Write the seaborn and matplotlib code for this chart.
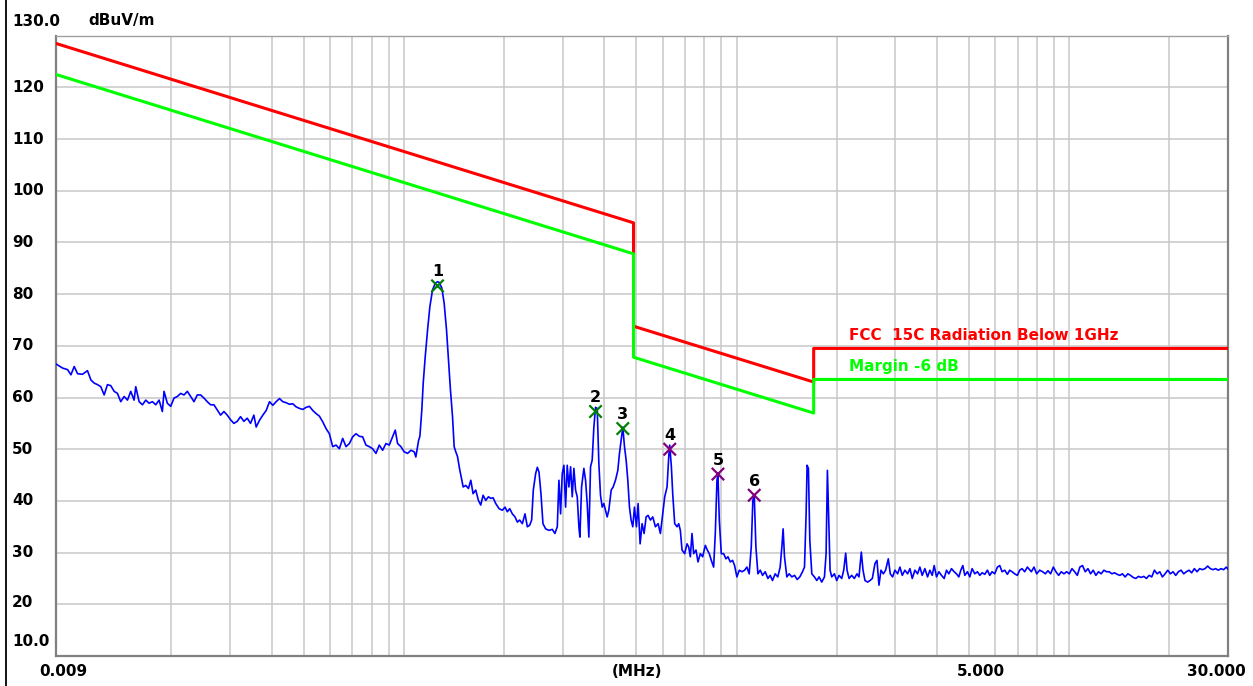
import numpy as np
import pandas as pd
import matplotlib
matplotlib.use('Agg')
import matplotlib.pyplot as plt
import matplotlib.transforms as mtransforms
from matplotlib.lines import Line2D
import seaborn as sns

# ==========================================
# Measured trace (MHz / dBuV/m), read off the scan
# ==========================================
# 9 kHz - 35 kHz
freq_a = [0.00900, 0.00942, 0.00975, 0.00998, 0.01021, 0.01045, 0.01081, 0.01119, 0.01146, 0.01172,
          0.01199, 0.01227, 0.01256, 0.01285, 0.01315, 0.01346, 0.01377, 0.01409, 0.01442, 0.01476,
          0.01510, 0.01545, 0.01563, 0.01600, 0.01637, 0.01675, 0.01714, 0.01754, 0.01795, 0.01837,
          0.01879, 0.01901, 0.01945, 0.01991, 0.02037, 0.02084, 0.02133, 0.02183, 0.02234, 0.02286,
          0.02339, 0.02393, 0.02449, 0.02506, 0.02564, 0.02624, 0.02685, 0.02748, 0.02812, 0.02877,
          0.02944, 0.03013, 0.03083, 0.03155, 0.03228, 0.03304, 0.03381, 0.03459, 0.03540]
lvl_a = [66.5, 65.7, 65.4, 64.4, 66.0, 64.6, 64.5, 65.2, 63.4, 62.8,
         62.5, 62.1, 60.5, 62.5, 62.3, 61.2, 60.8, 59.2, 60.2, 59.5,
         61.2, 59.5, 62.1, 59.2, 58.6, 59.5, 58.9, 59.2, 58.6, 59.5,
         57.3, 61.2, 58.9, 58.3, 59.9, 60.2, 60.8, 60.5, 61.2, 60.2,
         59.2, 60.5, 60.5, 59.9, 59.2, 58.6, 58.6, 57.6, 56.6, 57.3,
         56.6, 55.7, 55.0, 55.4, 56.3, 55.4, 56.0, 55.0, 56.6]

# 36 kHz - 111 kHz
freq_b = [0.03597, 0.03681, 0.03767, 0.03855, 0.03945, 0.04036, 0.04130, 0.04227, 0.04325, 0.04426,
          0.04529, 0.04634, 0.04742, 0.04853, 0.04966, 0.05082, 0.05200, 0.05321, 0.05445, 0.05572,
          0.05702, 0.05834, 0.05970, 0.06109, 0.06252, 0.06397, 0.06546, 0.06699, 0.06855, 0.07015,
          0.07178, 0.07345, 0.07516, 0.07691, 0.07870, 0.08054, 0.08241, 0.08433, 0.08630, 0.08831,
          0.09036, 0.09247, 0.09419, 0.09572, 0.09795, 0.1002, 0.1026, 0.1050, 0.1074, 0.1086,
          0.1107]
lvl_b = [54.3, 55.6, 56.6, 57.5, 59.2, 58.5, 59.2, 59.8, 59.2, 59.0,
         58.7, 58.8, 58.2, 57.9, 57.7, 58.1, 58.3, 57.5, 56.9, 56.4,
         55.3, 54.0, 53.0, 50.5, 50.8, 50.1, 52.1, 50.5, 51.1, 52.4,
         53.0, 52.5, 52.4, 50.8, 50.5, 50.1, 49.2, 50.8, 49.8, 51.1,
         50.8, 52.4, 53.7, 51.1, 50.5, 49.5, 49.2, 49.8, 49.5, 48.5,
         51.7]

# peak 1 region
freq_c = [0.1117, 0.1132, 0.1143, 0.1159, 0.1178, 0.1197, 0.1219, 0.1242, 0.1262, 0.1276,
          0.1300, 0.1321, 0.1343, 0.1361, 0.1380, 0.1400, 0.1416, 0.1432, 0.1449, 0.1472]
lvl_c = [52.5, 57.6, 62.8, 67.9, 73.1, 77.6, 80.8, 82.1, 82.4, 82.3,
         81.2, 78.3, 73.1, 67.3, 61.5, 56.3, 50.5, 49.5, 48.6, 46.0]

# 148 kHz - 542 kHz
freq_d = [0.1483, 0.1507, 0.1535, 0.1563, 0.1589, 0.1614, 0.1644, 0.1675, 0.1702, 0.1730,
          0.1762, 0.1795, 0.1824, 0.1854, 0.1888, 0.1932, 0.1977, 0.2014, 0.2046, 0.2080,
          0.2118, 0.2158, 0.2193, 0.2228, 0.2270, 0.2312, 0.2350, 0.2388, 0.2421, 0.2449,
          0.2489, 0.2518, 0.2547, 0.2582, 0.2618, 0.2667, 0.2729, 0.2793, 0.2844, 0.2891,
          0.2924, 0.2958, 0.2992, 0.3027, 0.3062, 0.3097, 0.3133, 0.3170, 0.3206, 0.3243,
          0.3281, 0.3319, 0.3357, 0.3381, 0.3420, 0.3475, 0.3516, 0.3556, 0.3597, 0.3639,
          0.3681, 0.3724, 0.3767, 0.3811, 0.3855, 0.3899, 0.3945, 0.3990, 0.4036, 0.4083,
          0.4130, 0.4198, 0.4256, 0.4325, 0.4395, 0.4446, 0.4498, 0.4550, 0.4603, 0.4656,
          0.4710, 0.4764, 0.4819, 0.4875, 0.4932, 0.5000, 0.5058, 0.5129, 0.5200, 0.5272,
          0.5346, 0.5420]
lvl_d = [45.0, 42.7, 43.0, 42.4, 44.0, 41.4, 42.1, 40.1, 39.2, 41.1,
         40.1, 40.8, 40.5, 40.6, 39.5, 38.5, 38.2, 38.8, 37.9, 38.5,
         37.5, 36.9, 35.9, 36.3, 35.6, 37.5, 35.0, 35.3, 36.3, 42.1,
         45.3, 46.5, 45.6, 41.4, 35.6, 34.6, 34.3, 34.5, 33.7, 35.0,
         44.0, 37.5, 45.3, 46.9, 38.8, 46.9, 42.7, 46.6, 40.8, 46.3,
         42.1, 40.8, 35.0, 33.0, 42.7, 46.3, 44.0, 39.5, 33.0, 46.6,
         47.9, 54.3, 58.1, 57.9, 47.2, 41.1, 38.8, 39.5, 38.2, 36.9,
         38.2, 42.1, 42.7, 44.0, 45.9, 49.2, 51.7, 54.3, 50.5, 47.9,
         44.0, 38.8, 36.3, 35.0, 38.8, 35.0, 39.5, 31.7, 35.6, 33.7,
         36.9, 37.2]

# 0.55 MHz - 1.9 MHz
freq_e = [0.5508, 0.5598, 0.5702, 0.5808, 0.5902, 0.5998, 0.6081, 0.6180, 0.6252, 0.6295,
          0.6368, 0.6427, 0.6516, 0.6622, 0.6699, 0.6776, 0.6855, 0.6982, 0.7096, 0.7178,
          0.7261, 0.7345, 0.7430, 0.7551, 0.7656, 0.7780, 0.7907, 0.8054, 0.8166, 0.8279,
          0.8395, 0.8531, 0.8630, 0.8730, 0.8790, 0.8872, 0.8995, 0.9141, 0.9290, 0.9419,
          0.9572, 0.9727, 0.9863, 1.002, 1.019, 1.038, 1.057, 1.074, 1.091, 1.107,
          1.119, 1.130, 1.143, 1.159, 1.178, 1.197, 1.219, 1.242, 1.262, 1.282,
          1.306, 1.330, 1.352, 1.368, 1.380, 1.393, 1.416, 1.439, 1.466, 1.493,
          1.521, 1.549, 1.578, 1.600, 1.618, 1.629, 1.644, 1.660, 1.683, 1.714,
          1.742, 1.770, 1.803, 1.837, 1.858, 1.875, 1.888]
lvl_e = [36.3, 36.9, 35.0, 35.6, 33.7, 37.5, 40.8, 42.7, 48.5, 50.8,
         46.6, 41.4, 35.6, 35.0, 35.6, 34.3, 30.5, 29.8, 31.7, 31.1,
         29.2, 33.7, 29.8, 30.5, 28.2, 29.8, 29.2, 31.4, 30.5, 29.8,
         28.5, 27.2, 33.7, 44.0, 45.0, 36.3, 29.8, 29.8, 28.8, 29.2,
         28.2, 28.5, 27.5, 25.3, 26.6, 26.3, 26.6, 27.2, 25.9, 31.1,
         40.1, 41.1, 31.1, 25.9, 26.6, 25.6, 26.3, 25.0, 25.6, 24.6,
         25.9, 25.3, 27.2, 31.1, 34.6, 29.2, 25.3, 25.9, 25.3, 25.6,
         24.8, 25.3, 26.3, 27.2, 37.5, 46.9, 46.3, 32.4, 25.9, 25.3,
         24.6, 25.3, 24.3, 25.3, 29.8, 45.9, 38.8]

# 1.9 MHz - 7.5 MHz
freq_f = [1.910, 1.932, 1.968, 2.000, 2.032, 2.070, 2.099, 2.128, 2.148, 2.178,
          2.218, 2.259, 2.301, 2.333, 2.371, 2.399, 2.432, 2.477, 2.518, 2.559,
          2.606, 2.642, 2.679, 2.716, 2.761, 2.805, 2.858, 2.897, 2.944, 2.992,
          3.048, 3.097, 3.148, 3.206, 3.266, 3.319, 3.373, 3.436, 3.499, 3.556,
          3.614, 3.681, 3.750, 3.811, 3.873, 3.926, 3.990, 4.055, 4.130, 4.207,
          4.276, 4.345, 4.426, 4.508, 4.581, 4.656, 4.721, 4.786, 4.853, 4.943,
          5.023, 5.105, 5.200, 5.297, 5.383, 5.470, 5.572, 5.675, 5.768, 5.861,
          5.970, 6.081, 6.180, 6.281, 6.397, 6.516, 6.622, 6.730, 6.855, 6.982,
          7.096, 7.211, 7.345, 7.482]
lvl_f = [26.6, 25.3, 25.9, 24.6, 25.6, 25.0, 26.6, 29.9, 26.6, 25.0,
         25.6, 25.0, 25.9, 25.3, 30.1, 26.6, 24.6, 24.3, 24.6, 25.0,
         27.9, 28.5, 23.7, 26.6, 25.9, 26.6, 28.8, 25.9, 25.3, 26.6,
         25.9, 27.2, 25.6, 26.6, 25.9, 26.9, 25.0, 26.6, 25.9, 27.2,
         25.6, 26.9, 25.3, 26.6, 25.6, 27.5, 25.3, 26.3, 25.6, 25.0,
         26.6, 25.9, 26.9, 26.3, 25.9, 25.3, 26.6, 27.5, 25.6, 26.3,
         25.3, 26.9, 25.9, 26.3, 25.6, 26.1, 25.8, 26.6, 25.6, 26.3,
         25.9, 27.2, 27.5, 26.3, 26.6, 25.8, 26.6, 26.3, 25.9, 25.6,
         26.6, 26.9, 26.3, 27.2]

# 7.6 MHz - 30 MHz
freq_g = [7.691, 7.834, 7.980, 8.147, 8.318, 8.472, 8.630, 8.790, 8.954, 9.120,
          9.290, 9.462, 9.638, 9.817, 10.00, 10.19, 10.38, 10.57, 10.76, 10.96,
          11.17, 11.38, 11.59, 11.80, 12.02, 12.25, 12.47, 12.71, 12.94, 13.18,
          13.43, 13.68, 13.93, 14.19, 14.45, 14.72, 15.00, 15.28, 15.56, 15.85,
          16.14, 16.44, 16.75, 17.06, 17.38, 17.70, 18.03, 18.37, 18.71, 19.05,
          19.41, 19.77, 20.14, 20.51, 20.89, 21.28, 21.68, 22.08, 22.49, 22.91,
          23.33, 23.77, 24.21, 24.66, 25.12, 25.59, 26.06, 26.55, 27.04, 27.54,
          28.05, 28.58, 29.11, 29.65, 30.00]
lvl_g = [26.3, 27.2, 25.9, 26.6, 26.3, 25.9, 26.5, 25.9, 27.2, 26.3,
         25.6, 26.3, 25.9, 26.3, 25.9, 26.9, 26.3, 25.6, 27.2, 27.5,
         26.3, 26.9, 25.9, 26.6, 25.6, 26.3, 25.9, 26.6, 26.3, 26.3,
         25.9, 26.1, 25.8, 25.6, 25.9, 25.3, 25.9, 25.6, 25.2, 25.0,
         25.4, 25.2, 25.4, 25.0, 25.6, 25.3, 26.6, 25.9, 26.3, 25.3,
         25.9, 26.6, 25.9, 26.3, 25.6, 26.3, 26.6, 25.9, 26.3, 26.6,
         26.1, 26.9, 26.3, 26.9, 26.7, 26.9, 27.4, 26.9, 26.7, 26.9,
         26.6, 26.9, 26.7, 27.2, 26.8]

# FCC 15C limit and the -6 dB margin (break points)
limit_freq = [0.009, 0.49, 0.49, 1.705, 1.705, 30.0]
limit_db = [128.5, 93.8, 73.8, 63.0, 69.5, 69.5]
margin_db = [122.5, 87.8, 67.8, 57.0, 63.5, 63.5]
limit_label = 'FCC  15C Radiation Below 1GHz'
margin_label = 'Margin -6 dB'
label_freq = 2.18

# Peak markers
peak_no = ['1', '2', '3', '4', '5', '6']
peak_freq = [0.1262, 0.3767, 0.4550, 0.6295, 0.8790, 1.130]
peak_db = [81.6, 57.3, 54.0, 50.0, 45.2, 41.1]
peak_kind = ['qp', 'qp', 'qp', 'pk', 'pk', 'pk']

y_ticks = [20, 30, 40, 50, 60, 70, 80, 90, 100, 110, 120]
grid_freq = [0.02, 0.03, 0.04, 0.05, 0.06, 0.07, 0.08, 0.09,
             0.1, 0.2, 0.3, 0.4, 0.5, 0.6, 0.7, 0.8, 0.9,
             1, 2, 3, 4, 5, 6, 7, 8, 9, 10, 20]
x_label_pos = [0.009, 0.5, 5, 30]
x_label_txt = ['0.009', '(MHz)', '5.000', '30.000']
x_label_dx = [7, 1, 12, -12]

# ==========================================
# Plot
# ==========================================
sns.set_theme(style='white')
plt.rcParams['font.family'] = ['DejaVu Sans']
plt.rcParams['font.weight'] = 'bold'
plt.rcParams['text.color'] = 'black'

W, H = 1253, 686
fig = plt.figure(figsize=(W / 100, H / 100), dpi=100)
ax = fig.add_axes([56 / W, 30 / H, 1172 / W, 620.3 / H])
ax.set_xscale('log')

trace = pd.DataFrame({'freq': freq_a + freq_b + freq_c + freq_d + freq_e + freq_f + freq_g,
                      'level': lvl_a + lvl_b + lvl_c + lvl_d + lvl_e + lvl_f + lvl_g})
limits = pd.DataFrame({'freq': limit_freq, 'limit': limit_db, 'margin': margin_db})
peaks = pd.DataFrame({'freq': peak_freq, 'level': peak_db, 'kind': peak_kind})

sns.lineplot(data=trace, x='freq', y='level', estimator=None, sort=False,
             color='#0000ff', lw=1.2, ax=ax, zorder=3)
sns.lineplot(data=limits, x='freq', y='limit', estimator=None, sort=False,
             color='#ff0000', lw=2.2, ax=ax, zorder=4)
sns.lineplot(data=limits, x='freq', y='margin', estimator=None, sort=False,
             color='#00ff00', lw=2.2, ax=ax, zorder=5)
sns.scatterplot(data=peaks, x='freq', y='level', hue='kind',
                palette={'qp': '#008000', 'pk': '#800080'}, marker='x',
                s=80, linewidth=1.6, legend=False, ax=ax, zorder=6)

for no, f, l in zip(peak_no, peak_freq, peak_db):
    ax.annotate(no, (f, l), xytext=(0, 14), textcoords='offset pixels',
                ha='center', va='center', fontsize=11.5, fontweight='bold', color='black')

ax.annotate(limit_label, (label_freq, limit_db[-1]), xytext=(0, 13), textcoords='offset pixels',
            ha='left', va='center', fontsize=11, fontweight='bold', color='#ff0000')
ax.annotate(margin_label, (label_freq, margin_db[-1]), xytext=(0, 13), textcoords='offset pixels',
            ha='left', va='center', fontsize=11, fontweight='bold', color='#00ff00')

ax.set_xlim(0.009, 30)
ax.set_ylim(10, 130)
ax.set_xlabel('')
ax.set_ylabel('')

# grid
ax.set_xticks([])
ax.set_xticks(grid_freq, minor=True)
ax.set_yticks(y_ticks)
ax.tick_params(which='both', length=0, labelbottom=False, labelleft=False)
ax.grid(which='minor', axis='x', color='#c8c8c8', lw=1.1)
ax.grid(which='major', axis='y', color='#c8c8c8', lw=1.1)
ax.set_axisbelow(True)

for side in ['left', 'bottom', 'right']:
    ax.spines[side].set_color('#808080')
    ax.spines[side].set_linewidth(1.6)
ax.spines['top'].set_color('#a0a0a0')
ax.spines['top'].set_linewidth(1.0)

# y labels (left aligned near the window edge)
ytr = mtransforms.blended_transform_factory(fig.transFigure, ax.transData)
for v in y_ticks:
    ax.annotate(str(v), (12 / W, v), xycoords=ytr, xytext=(0, 2 if v == 20 else 0),
                textcoords='offset pixels', ha='left', va='center', fontsize=11,
                fontweight='bold', color='black')
ax.annotate('130.0', (12 / W, 130), xycoords=ytr, xytext=(0, 14), textcoords='offset pixels',
            ha='left', va='center', fontsize=11, fontweight='bold', color='black')
ax.annotate('10.0', (12 / W, 10), xycoords=ytr, xytext=(0, 15), textcoords='offset pixels',
            ha='left', va='center', fontsize=11, fontweight='bold', color='black')
fig.text(88 / W, 1 - 21 / H, 'dBuV/m', ha='left', va='center', fontsize=11,
         fontweight='bold', color='black')

# x labels
xtr = ax.get_xaxis_transform()
for pos, txt, dx in zip(x_label_pos, x_label_txt, x_label_dx):
    ax.annotate(txt, (pos, 0), xycoords=xtr, xytext=(dx, -15), textcoords='offset pixels',
                ha='center', va='center', fontsize=11, fontweight='bold', color='black')

# window edge line on the left
fig.add_artist(Line2D([5.5 / W, 5.5 / W], [0, 1], transform=fig.transFigure, color='black', lw=1.3))

fig.savefig('out.png', dpi=100)
